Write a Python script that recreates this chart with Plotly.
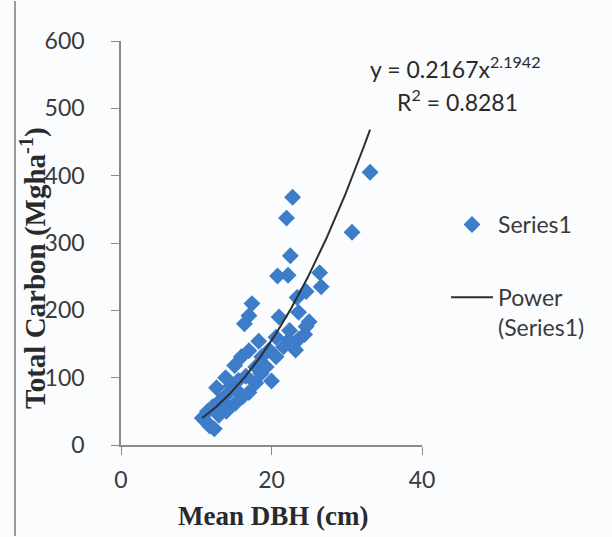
import numpy as np
import plotly.graph_objects as go

# ---- data ----
mean_dbh = [10.8, 11.5, 11.8, 12.4, 12.2, 13.0, 12.7, 13.2, 13.9, 14.3,
            13.9, 14.6, 15.1, 15.3, 15.6, 15.2, 16.0, 16.6, 16.2, 17.0,
            17.0, 17.9, 17.9, 18.3, 18.7, 18.6, 19.3, 19.7, 20.0, 20.6,
            20.6, 21.0, 21.6, 22.3, 22.4, 23.2, 23.6, 23.6, 23.4, 24.4,
            24.6, 25.0, 24.6, 26.4, 26.6, 20.8, 22.2, 22.5, 22.0, 22.8,
            30.7, 33.1, 17.4, 17.0, 16.4, 14.0, 11.3]
total_carbon = [40, 50, 28, 24, 57, 44, 85, 66, 73, 57,
                100, 88, 118, 82, 96, 62, 131, 102, 72, 78,
                140, 92, 116, 154, 131, 106, 116, 141, 95, 131,
                160, 190, 146, 156, 170, 141, 157, 197, 219, 164,
                176, 183, 228, 256, 235, 251, 252, 281, 337, 368,
                316, 405, 210, 192, 180, 50, 35]

power_a = 0.2167
power_b = 2.1942
r_squared = 0.8281

x_ticks = [0, 20, 40]
y_ticks = [0, 100, 200, 300, 400, 500, 600]

series_name = "Series1"
trend_name = "Power<br>(Series1)"
x_title = "Mean DBH (cm)"
y_title = "Total Carbon (Mgha<sup>-1</sup>)"

# ---- figure ----
xfit = np.linspace(min(mean_dbh), max(mean_dbh), 200)
yfit = power_a * xfit ** power_b

fig = go.Figure()
fig.add_trace(go.Scatter(
    x=mean_dbh, y=total_carbon, mode="markers", name=series_name,
    legendgroup="a",
    marker=dict(symbol="diamond", size=13, color="#3d7cc9",
                line=dict(width=0)),
))
fig.add_trace(go.Scatter(
    x=xfit, y=yfit, mode="lines", name=trend_name, legendgroup="b",
    line=dict(color="#2e2e2e", width=2),
))

L, R, T, B = 121, 190, 41, 92
W, H = 612, 537
pw, ph = W - L - R, H - T - B

def px(x):
    return (x - L) / pw

def py(y):
    return (H - B - y) / ph

tick_font = dict(family="Lato, Open Sans, sans-serif", size=23, color="#3a3a3a")

fig.update_layout(
    width=W, height=H, autosize=False,
    margin=dict(l=L, r=R, t=T, b=B, pad=0, autoexpand=False),
    paper_bgcolor="#fafcfe", plot_bgcolor="#fafcfe",
    showlegend=True,
    legend=dict(x=px(446), y=py(203), xanchor="left", yanchor="top",
                font=tick_font, bgcolor="rgba(0,0,0,0)",
                tracegroupgap=40, valign="top", itemwidth=42),
    xaxis=dict(range=[0, 40], tickvals=x_ticks, ticks="outside", ticklen=8,
               tickcolor="#8a8a8a", showline=True, linecolor="#8a8a8a",
               linewidth=1.5, showgrid=False, zeroline=False,
               tickfont=tick_font, ticklabelstandoff=6),
    yaxis=dict(range=[0, 600], tickvals=y_ticks, ticks="outside", ticklen=8,
               tickcolor="#8a8a8a", showline=True, linecolor="#8a8a8a",
               linewidth=1.5, showgrid=False, zeroline=False,
               tickfont=tick_font, ticklabelstandoff=22),
)

eq_font = dict(family="Lato, Open Sans, sans-serif", size=23, color="#2a2a2a")
fig.add_annotation(xref="paper", yref="paper", x=px(455), y=py(68),
                   text=f"y = {power_a}x<sup>{power_b}</sup>", showarrow=False,
                   font=eq_font, xanchor="center", yanchor="middle")
fig.add_annotation(xref="paper", yref="paper", x=px(458), y=py(100),
                   text=f"R<sup>2</sup> = {r_squared}", showarrow=False,
                   font=eq_font, xanchor="center", yanchor="middle")

title_font = dict(family="Liberation Serif, Times New Roman, serif", size=27,
                  color="#2a2a2a", weight="bold")
fig.add_annotation(xref="paper", yref="paper", x=px(273), y=py(516),
                   text=f"<b>{x_title}</b>", showarrow=False, font=title_font,
                   xanchor="center", yanchor="middle")
ytitle_font = dict(title_font, size=29)
fig.add_annotation(xref="paper", yref="paper", x=px(33), y=py(268),
                   text=f"<b>{y_title}</b>", showarrow=False, font=ytitle_font,
                   textangle=-90, xanchor="center", yanchor="middle")

# chart-area border visible at left edge of the photo
fig.add_shape(type="line", xref="paper", yref="paper", layer="above",
              x0=px(15), x1=px(15), y0=py(H - 1), y1=py(1),
              line=dict(color="#9a9a9a", width=2))

fig.write_html(
    "out.html",
    config={"displayModeBar": False},
    post_script="document.body.style.margin='0';document.body.style.overflow='hidden';",
)
